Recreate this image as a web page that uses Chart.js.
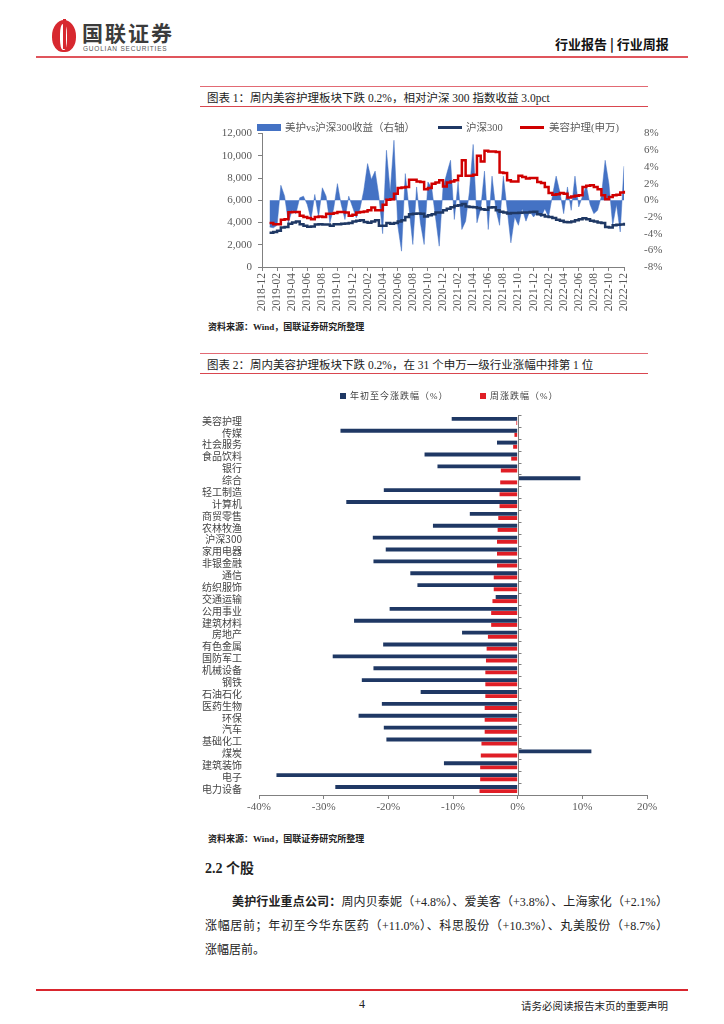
<!DOCTYPE html>
<html>
<head>
<meta charset="utf-8">
<script src="https://cdn.jsdelivr.net/npm/chart.js@4.4.0/dist/chart.umd.min.js"></script>
<style>
  body { margin: 0; background: #fff; }
  #page { position: relative; width: 724px; height: 1024px; overflow: hidden;
    font-family: "Liberation Serif", "Noto Sans CJK SC", serif; color: #222; }
  .abs { position: absolute; white-space: nowrap; }
  .rule { position: absolute; height: 1px; background: #e26a74; }
  .title { font-size: 11.5px; color: #222; }
  .src { font-size: 9px; color: #222; font-weight: bold; }
  .para { position: absolute; font-size: 12px; line-height: 24px; text-align: justify; text-align-last: justify; white-space: nowrap; }
  .leg { font-size: 10.5px; color: #595959; }
  .leg2 { font-size: 9px; color: #404040; letter-spacing: 1px; }
</style>
</head>
<body>
<div id="page">
  <!-- header -->
  <div class="abs" style="left:52px;top:20px;width:24px;height:32px;border-radius:50% 50% 45% 45%;background:#d7282f;"></div>
  <div class="abs" style="left:60px;top:24px;width:7px;height:26px;border-radius:40%;background:#fff;"></div>
  <div class="abs" style="left:63px;top:19px;width:3px;height:30px;background:#d7282f;"></div>
  <div class="abs" style="left:82px;top:22px;font-size:21px;line-height:21px;font-weight:bold;color:#3b3b3b;font-family:'Noto Sans CJK SC';letter-spacing:2px;">国联证券</div>
  <div class="abs" style="left:83px;top:45px;font-size:6.5px;line-height:7px;color:#555;font-family:'Liberation Sans';letter-spacing:0.8px;">GUOLIAN SECURITIES</div>
  <div class="abs" style="left:555px;top:34px;font-size:13px;font-weight:bold;color:#111;font-family:'Noto Sans CJK SC';">行业报告 | 行业周报</div>
  <div class="abs" style="left:36px;top:56px;width:652px;height:2px;background:#e0555c;"></div>

  <!-- figure 1 -->
  <div class="rule" style="left:200px;top:86px;width:448px;"></div>
  <div class="abs title" style="left:207px;top:89px;">图表 1：周内美容护理板块下跌 0.2%，相对沪深 300 指数收益 3.0pct</div>
  <div class="rule" style="left:200px;top:106px;width:448px;background:#d9464f;"></div>

  <canvas id="lineChart" width="470" height="205" class="abs" style="left:200px;top:115px;"></canvas>
  <div class="abs" style="left:257px;top:124px;width:24px;height:7px;background:#4472c4;"></div>
  <div class="abs leg" style="left:285px;top:119px;">美护vs沪深300收益（右轴）</div>
  <div class="abs" style="left:438px;top:126px;width:24px;height:3px;background:#1f3864;"></div>
  <div class="abs leg" style="left:466px;top:119px;">沪深300</div>
  <div class="abs" style="left:520px;top:126px;width:24px;height:3px;background:#d00000;"></div>
  <div class="abs leg" style="left:549px;top:119px;">美容护理(申万)</div>

  <div class="abs src" style="left:208px;top:320px;">资料来源：Wind，国联证券研究所整理</div>

  <!-- figure 2 -->
  <div class="rule" style="left:200px;top:353px;width:448px;"></div>
  <div class="abs title" style="left:207px;top:356px;">图表 2：周内美容护理板块下跌 0.2%，在 31 个申万一级行业涨幅中排第 1 位</div>
  <div class="rule" style="left:200px;top:373px;width:448px;background:#d9464f;"></div>

  <canvas id="barChart" width="460" height="420" class="abs" style="left:200px;top:400px;"></canvas>
  <div class="abs" style="left:340px;top:393px;width:6px;height:6px;background:#1f3864;"></div>
  <div class="abs leg2" style="left:350px;top:389px;">年初至今涨跌幅（%）</div>
  <div class="abs" style="left:480px;top:393px;width:6px;height:6px;background:#e01e26;"></div>
  <div class="abs leg2" style="left:490px;top:389px;">周涨跌幅（%）</div>

  <div class="abs src" style="left:208px;top:832px;">资料来源：Wind，国联证券研究所整理</div>

  <!-- text -->
  <div class="abs" style="left:205px;top:857px;font-size:14px;font-weight:bold;">2.2 个股</div>
  <div class="para" style="left:232px;top:890px;width:436px;"><b>美护行业重点公司：</b>周内贝泰妮（+4.8%）、爱美客（+3.8%）、上海家化（+2.1%）</div>
  <div class="para" style="left:205px;top:914px;width:463px;">涨幅居前；年初至今华东医药（+11.0%）、科思股份（+10.3%）、丸美股份（+8.7%）</div>
  <div class="abs" style="left:205px;top:938px;font-size:12px;line-height:24px;">涨幅居前。</div>

  <!-- footer -->
  <div class="abs" style="left:36px;top:989px;width:652px;height:2px;background:#d9262e;"></div>
  <div class="abs" style="left:359px;top:997px;font-size:12px;">4</div>
  <div class="abs" style="left:520px;top:998px;width:148px;text-align:right;font-size:10.5px;font-family:'Noto Sans CJK SC';">请务必阅读报告末页的重要声明</div>
</div>

<script>
// ---- figure 1: weekly series (half-month sampling) ----
const dates = [
  "2018-12-01","2018-12-15",
  "2019-01-01","2019-01-15","2019-02-01","2019-02-15","2019-03-01","2019-03-15","2019-04-01","2019-04-15",
  "2019-05-01","2019-05-15","2019-06-01","2019-06-15","2019-07-01","2019-07-15","2019-08-01","2019-08-15",
  "2019-09-01","2019-09-15","2019-10-01","2019-10-15","2019-11-01","2019-11-15","2019-12-01","2019-12-15",
  "2020-01-01","2020-01-15","2020-02-01","2020-02-15","2020-03-01","2020-03-15","2020-04-01","2020-04-15",
  "2020-05-01","2020-05-15","2020-06-01","2020-06-15","2020-07-01","2020-07-15","2020-08-01","2020-08-15",
  "2020-09-01","2020-09-15","2020-10-01","2020-10-15","2020-11-01","2020-11-15","2020-12-01","2020-12-15",
  "2021-01-01","2021-01-15","2021-02-01","2021-02-15","2021-03-01","2021-03-15","2021-04-01","2021-04-15",
  "2021-05-01","2021-05-15","2021-06-01","2021-06-15","2021-07-01","2021-07-15","2021-08-01","2021-08-15",
  "2021-09-01","2021-09-15","2021-10-01","2021-10-15","2021-11-01","2021-11-15","2021-12-01","2021-12-15",
  "2022-01-01","2022-01-15","2022-02-01","2022-02-15","2022-03-01","2022-03-15","2022-04-01","2022-04-15",
  "2022-05-01","2022-05-15","2022-06-01","2022-06-15","2022-07-01","2022-07-15","2022-08-01","2022-08-15",
  "2022-09-01","2022-09-15","2022-10-01","2022-10-15","2022-11-01","2022-11-15","2022-12-01"
];
const tickLabels = [
  "2018-12","2019-02","2019-04","2019-06","2019-08","2019-10","2019-12","2020-02","2020-04",
  "2020-06","2020-08","2020-10","2020-12","2021-02","2021-04","2021-06","2021-08","2021-10",
  "2021-12","2022-02","2022-04","2022-06","2022-08","2022-10","2022-12"
];
// 美容护理(申万)
const beautyIdx = [null, null,
  3950, 3850, 3850, 4250, 4300, 4930, 4950, 4950, 4600, 4500,
  4400, 4300, 4500, 4550, 4500, 4800, 4800, 4850, 4950, 4950,
  4900, 4600, 4700, 4900, 4950, 5000, 5100, 5350, 5100, 5100,
  5600, 6050, 6100, 6600, 7100, 7150, 7200, 7850, 7850, 7700,
  7650, 7000, 7100, 7500, 7600, 7800, 7250, 7600, 7700, 7800,
  8200, 9600, 8200, 8200, 8300, 10000, 9500, 10450, 10400, 10400,
  10350, 8500, 8450, 7800, 7700, 7700, 8200, 8100, 7950, 8000,
  8000, 7650, 7550, 7200, 6650, 6500, 6550, 6650, 6600, 6250,
  6350, 6400, 6450, 7200, 7300, 7350, 7200, 7000, 6450, 6100,
  6300, 6450, 6500, 6700, 6850
];
// 沪深300
const hs300 = [null, null,
  3070, 3150, 3270, 3550, 3600, 3900, 4000, 4100, 3850, 3700,
  3620, 3650, 3830, 3850, 3830, 3830, 3700, 3850, 3850, 3900,
  3920, 3950, 4100, 4150, 4200, 4050, 3970, 4100, 4200, 3700,
  3700, 3950, 3900, 3950, 4100, 4200, 4500, 4750, 4800, 4820,
  4800, 4550, 4650, 4750, 4900, 4900, 5100, 5250, 5380, 5500,
  5550, 5660, 5450, 5400, 5380, 5300, 5200, 5150, 5350, 5380,
  5100, 4960, 4900, 4820, 4850, 4850, 4870, 4900, 4900, 4950,
  4960, 4750, 4680, 4550, 4500, 4400, 4250, 4150, 4050, 4030,
  4100, 4200, 4300, 4390, 4300, 4170, 4100, 4000, 3950, 3600,
  3550, 3750, 3800, 3830, 3970
];
// 美护vs沪深300收益 (%), right axis
const excessRet = [null, null,
  -3.2, -3.3, -3.0, 1.8, 0.5, -2.7, -1.2, -1.6, 0.3, 0.5,
  -0.5, -2.3, 0.7, -2.0, 1.5, 0.5, -2.7, -1.0, 2.0, -0.5,
  -2.3, 0.5, -0.8, -2.1, -1.0, 1.2, 4.4, 2.5, 3.5, 0.5,
  -4.0, 6.0, 1.0, 7.2, -3.0, -6.1, 3.2, -1.0, -5.3, 1.6,
  -2.7, -5.3, 2.2, 1.5, -2.0, -5.5, 1.5, 3.2, 4.8, -2.3,
  2.2, -3.5, -2.5, 1.0, 6.7, -2.7, -1.0, 3.5, -3.5, 2.9,
  -1.0, -3.0, 2.9, -1.0, -5.1, -2.0, -3.0, -1.0, -2.5, -1.3,
  -2.0, -1.5, -2.0, -1.0, -2.0, 0.5, 2.9, 1.0, -1.6, 1.6,
  -1.2, 2.9, -0.8, 0.5, 1.8, -0.5, -1.6, -1.2, 0.5, 4.8,
  2.0, -3.0, -0.5, -3.8, 4.1
];

// ---- figure 2: industries ----
const industries = ["美容护理","传媒","社会服务","食品饮料","银行","综合","轻工制造","计算机",
  "商贸零售","农林牧渔","沪深300","家用电器","非银金融","通信","纺织服饰","交通运输",
  "公用事业","建筑材料","房地产","有色金属","国防军工","机械设备","钢铁","石油石化",
  "医药生物","环保","汽车","基础化工","煤炭","建筑装饰","电子","电力设备"];
const ytdChg = [-10.2,-27.4,-3.2,-14.4,-12.4,9.7,-20.7,-26.5,-7.4,-13.1,-22.4,-20.4,-22.3,-16.6,-15.5,-3.4,
  -19.8,-25.3,-8.6,-20.8,-28.6,-22.3,-24.1,-15.0,-21.0,-24.6,-20.7,-20.3,11.4,-11.4,-37.3,-28.2];
const weekChg = [-0.2,-0.5,-0.7,-1.0,-2.6,-2.7,-2.8,-2.8,-3.0,-3.1,-3.2,-3.2,-3.2,-3.7,-3.7,-3.9,
  -4.1,-4.1,-4.6,-4.8,-4.9,-5.0,-5.0,-5.0,-5.1,-5.1,-5.1,-5.6,-5.7,-5.8,-5.8,-5.9];

const axisGrey = "#808080",
  tickFont = { family: "Liberation Serif", size: 11 },
  tickColor = "#595959";

new Chart(document.getElementById("lineChart"), {
  type: "line",
  data: {
    labels: dates,
    datasets: [
      { label: "美容护理(申万)", data: beautyIdx, yAxisID: "y", borderColor: "#d00000",
        borderWidth: 2.5, pointRadius: 0, stepped: true, order: 1 },
      { label: "沪深300", data: hs300, yAxisID: "y", borderColor: "#1f3864",
        borderWidth: 2.5, pointRadius: 0, stepped: true, order: 2 },
      { label: "美护vs沪深300收益（右轴）", data: excessRet, yAxisID: "y1", borderColor: "#4472c4",
        borderWidth: 0.5, backgroundColor: "#4472c4", fill: "origin", pointRadius: 0, tension: 0, order: 3 },
    ],
  },
  options: {
    responsive: false,
    animation: false,
    layout: { padding: { top: 10 } },
    plugins: { legend: { display: false }, tooltip: { enabled: false } },
    scales: {
      x: {
        type: "category",
        grid: { display: true, drawOnChartArea: false, tickLength: 4, color: axisGrey },
        border: { color: axisGrey },
        ticks: {
          autoSkip: false, maxRotation: 90, minRotation: 90, padding: 2,
          font: { family: "Liberation Serif", size: 11.5 }, color: tickColor,
          callback: (v, i) => {
            const m = dates[i].slice(0, 7);
            return dates[i].endsWith("-01") && tickLabels.includes(m) ? m : null;
          },
        },
        afterFit: (s) => { s.height = 53; },
      },
      y: {
        position: "left", min: 0, max: 12000,
        grid: { display: true, drawOnChartArea: false, tickLength: 4, color: axisGrey },
        border: { color: axisGrey },
        ticks: { stepSize: 2000, font: tickFont, color: tickColor, padding: 6,
          callback: (v) => v.toLocaleString("en-US") },
        afterFit: (s) => { s.width = 62; },
      },
      y1: {
        position: "right", min: -8, max: 8,
        grid: { display: false },
        border: { display: false },
        ticks: { stepSize: 2, font: tickFont, color: tickColor, padding: 12,
          callback: (v) => v + "%" },
        afterFit: (s) => { s.width = 46; },
      },
    },
  },
});

// zero axis with tick marks between categories
const zeroAxis = {
  id: "zeroAxis",
  afterDatasetsDraw(chart) {
    const { ctx, chartArea, scales } = chart,
      x0 = Math.round(scales.x.getPixelForValue(0)) + 0.5,
      n = industries.length,
      step = (chartArea.bottom - chartArea.top) / n;
    ctx.save();
    ctx.strokeStyle = "#7f7f7f";
    ctx.lineWidth = 1;
    ctx.beginPath();
    ctx.moveTo(x0, chartArea.top);
    ctx.lineTo(x0, chartArea.bottom);
    for (let i = 0; i <= n; i++) {
      const y = Math.round(chartArea.top + i * step) + 0.5;
      ctx.moveTo(x0, y);
      ctx.lineTo(x0 + 3, y);
    }
    ctx.stroke();
    ctx.restore();
  },
};

new Chart(document.getElementById("barChart"), {
  type: "bar",
  data: {
    labels: industries,
    datasets: [
      { label: "年初至今涨跌幅（%）", data: ytdChg, backgroundColor: "#1f3864",
        categoryPercentage: 0.7, barPercentage: 0.95 },
      { label: "周涨跌幅（%）", data: weekChg, backgroundColor: "#e01e26",
        categoryPercentage: 0.7, barPercentage: 0.95 },
    ],
  },
  options: {
    indexAxis: "y",
    responsive: false,
    animation: false,
    layout: { padding: { top: 4, right: 13 } },
    plugins: { legend: { display: false }, tooltip: { enabled: false } },
    scales: {
      x: {
        min: -40, max: 20,
        grid: { display: true, drawOnChartArea: false, tickLength: 4, color: axisGrey },
        border: { color: axisGrey },
        ticks: { stepSize: 10, font: tickFont, color: tickColor, padding: 2,
          callback: (v) => v + "%" },
        afterFit: (s) => { s.height = 25; },
      },
      y: {
        grid: { display: false },
        border: { display: false },
        ticks: { font: { family: "Noto Sans CJK SC", size: 10 }, color: "#444", padding: 9, autoSkip: false },
        afterFit: (s) => { s.width = 59; },
      },
    },
  },
  plugins: [zeroAxis],
});
</script>
</body>
</html>
